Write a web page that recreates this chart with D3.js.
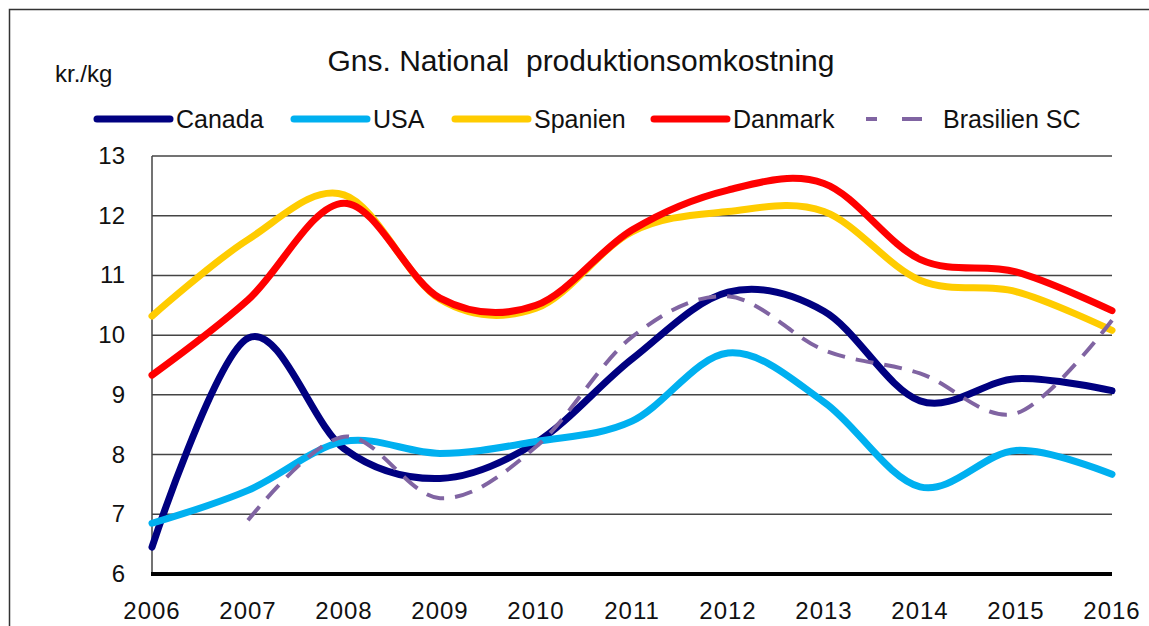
<!DOCTYPE html>
<html>
<head>
<meta charset="utf-8">
<script src="https://cdn.jsdelivr.net/npm/d3@7"></script>
<style>
  body { margin: 0; background: #fff; }
  svg { display: block; font-family: "Liberation Sans", Arial, sans-serif; }
</style>
</head>
<body>
<svg id="chart" width="1149" height="626"></svg>
<script>
const years = [2006, 2007, 2008, 2009, 2010, 2011, 2012, 2013, 2014, 2015, 2016];
const yTicks = [6, 7, 8, 9, 10, 11, 12, 13];

const canada    = [6.45, 9.95, 8.1, 7.6, 8.2, 9.6, 10.72, 10.4, 8.9, 9.27, 9.07];
const usa       = [6.85, 7.4, 8.22, 8.02, 8.22, 8.56, 9.7, 8.88, 7.46, 8.07, 7.67];
const spanien   = [10.32, 11.6, 12.35, 10.6, 10.45, 11.73, 12.07, 12.07, 10.92, 10.73, 10.08];
const danmark   = [9.33, 10.59, 12.21, 10.62, 10.5, 11.76, 12.43, 12.54, 11.27, 11.06, 10.41];
const brasilien = [null, 6.9, 8.3, 7.27, 8.13, 9.97, 10.65, 9.75, 9.36, 8.69, 10.25];

const series = [
    { name: 'Canada', values: canada, color: '#000080', width: 7, dash: null },
    { name: 'USA', values: usa, color: '#00B0F0', width: 7, dash: null },
    { name: 'Spanien', values: spanien, color: '#FFCC00', width: 7, dash: null },
    { name: 'Danmark', values: danmark, color: '#FF0000', width: 7, dash: null },
    { name: 'Brasilien SC', values: brasilien, color: '#8064A2', width: 4, dash: '18,11' }
];

const svg = d3.select('#chart');

// ramme
svg.append('path')
    .attr('d', 'M9.5,700 V9.5 H1200')
    .attr('fill', 'none')
    .attr('stroke', '#333')
    .attr('stroke-width', 1.5);

const x = d3.scaleLinear().domain([2006, 2016]).range([152, 1112]);
const y = d3.scaleLinear().domain([6, 13]).range([574, 156]);

// gitterlinjer
svg.append('g')
    .selectAll('line')
    .data(yTicks.filter(d => d > 6))
    .enter().append('line')
    .attr('x1', x(2006))
    .attr('x2', x(2016))
    .attr('y1', d => y(d))
    .attr('y2', d => y(d))
    .attr('stroke', '#444')
    .attr('stroke-width', 1.5);

// y-akse
svg.append('line')
    .attr('x1', x(2006)).attr('x2', x(2006))
    .attr('y1', y(13)).attr('y2', y(6))
    .attr('stroke', '#444')
    .attr('stroke-width', 1.5);

svg.append('g')
    .selectAll('text')
    .data(yTicks)
    .enter().append('text')
    .attr('x', 125)
    .attr('y', d => y(d) + 8)
    .attr('text-anchor', 'end')
    .attr('font-size', 24)
    .attr('fill', '#111')
    .text(d => d);

// x-akse
svg.append('line')
    .attr('x1', x(2006) - 1).attr('x2', x(2016))
    .attr('y1', y(6)).attr('y2', y(6))
    .attr('stroke', '#000')
    .attr('stroke-width', 4);

svg.append('g')
    .selectAll('text')
    .data(years)
    .enter().append('text')
    .attr('x', d => x(d))
    .attr('y', 619)
    .attr('text-anchor', 'middle')
    .attr('font-size', 24)
    .attr('letter-spacing', 1)
    .attr('fill', '#111')
    .text(d => d);

// linjer
const line = d3.line()
    .defined(d => d.v != null)
    .x(d => x(d.year))
    .y(d => y(d.v))
    .curve(d3.curveCardinal.tension(0));

svg.append('g')
    .selectAll('path')
    .data(series)
    .enter().append('path')
    .attr('d', s => line(years.map((yr, i) => ({ year: yr, v: s.values[i] }))))
    .attr('fill', 'none')
    .attr('stroke', s => s.color)
    .attr('stroke-width', s => s.width)
    .attr('stroke-dasharray', s => s.dash)
    .attr('stroke-linejoin', 'round')
    .attr('stroke-linecap', s => s.dash ? 'butt' : 'round');

// titel og enhed
svg.append('text')
    .attr('x', 581)
    .attr('y', 71)
    .attr('text-anchor', 'middle')
    .attr('font-size', 30)
    .attr('fill', '#111')
    .attr('xml:space', 'preserve')
    .text('Gns. National  produktionsomkostning');

svg.append('text')
    .attr('x', 55)
    .attr('y', 82)
    .attr('font-size', 24)
    .attr('fill', '#111')
    .text('kr./kg');

// forklaring
const legendPos = [97, 294, 455, 654, 866];
const legend = svg.append('g')
    .selectAll('g')
    .data(series)
    .enter().append('g')
    .attr('transform', (d, i) => `translate(${legendPos[i]},119)`);

legend.append('line')
    .attr('x1', 0)
    .attr('x2', d => d.dash ? 56 : 73)
    .attr('y1', 0).attr('y2', 0)
    .attr('stroke', d => d.color)
    .attr('stroke-width', d => d.width)
    .attr('stroke-dasharray', d => d.dash ? '11,25,20,50' : null)
    .attr('stroke-linecap', d => d.dash ? 'butt' : 'round');

legend.append('text')
    .attr('x', d => d.dash ? 77 : 79)
    .attr('y', 9)
    .attr('font-size', 25)
    .attr('fill', '#111')
    .text(d => d.name);
</script>
</body>
</html>
